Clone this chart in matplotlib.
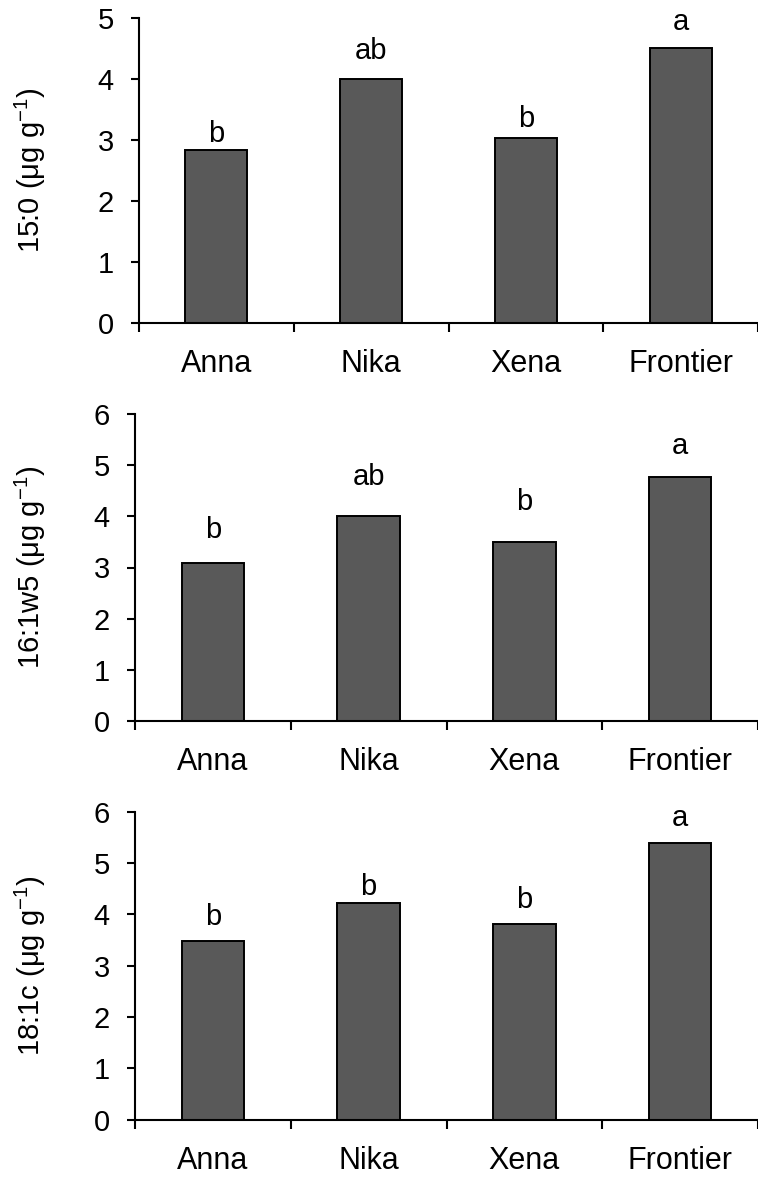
import matplotlib
matplotlib.use("Agg")
import matplotlib.pyplot as plt
import numpy as np

plt.rcParams['font.family'] = ['Liberation Sans', 'DejaVu Sans']
plt.rcParams['mathtext.fontset'] = 'custom'
plt.rcParams['mathtext.rm'] = 'Liberation Sans'
plt.rcParams['mathtext.it'] = 'Liberation Sans'

cultivars = ["Anna", "Nika", "Xena", "Frontier"]
fa_15_0 = [2.84, 4.01, 3.03, 4.51]
fa_16_1w5 = [3.09, 4.01, 3.49, 4.78]
fa_18_1c = [3.48, 4.22, 3.81, 5.40]
letters_15_0 = ["b", "ab", "b", "a"]
letters_16_1w5 = ["b", "ab", "b", "a"]
letters_18_1c = ["b", "b", "b", "a"]
ylabels = ["15:0 (μg g$^{-1}$)", "16:1w5 (μg g$^{-1}$)", "18:1c (μg g$^{-1}$)"]
ymaxes = [5, 6, 6]

W, H = 758, 1179
fig = plt.figure(figsize=(W / 100, H / 100), dpi=100)

# axes boxes in pixels: left, top(ymax), bottom(0)
boxes = [(139, 18.3, 322.7), (135, 414.3, 720.7), (135, 811.7, 1119.7)]
label_off_px = [[8, 20, 11, 18], [25, 31, 32, 23], [16, 8, 16, 17]]

panels = [(fa_15_0, letters_15_0), (fa_16_1w5, letters_16_1w5), (fa_18_1c, letters_18_1c)]

for i, ((vals, lets), (lpx, top, bot)) in enumerate(zip(panels, boxes)):
    ax = fig.add_axes([lpx / W, 1 - bot / H, (W - lpx) / W, (bot - top) / H])
    x = np.arange(len(cultivars))
    ax.bar(x, vals, width=0.4, color="#595959", edgecolor="black", linewidth=1.4, zorder=2)
    ax.set_xlim(-0.5, 3.5)
    ax.set_ylim(0, ymaxes[i])
    ax.set_yticks(range(ymaxes[i] + 1))
    ax.set_xticks(x)
    ax.set_xticklabels(cultivars)
    ax.set_xticks(np.arange(-0.5, 4.0, 1.0), minor=True)
    ax.tick_params(axis='x', which='major', length=0, pad=19, labelsize=22)
    ax.tick_params(axis='x', which='minor', length=6.5, width=1.5, direction='out')
    ax.tick_params(axis='y', length=6, width=1.5, direction='out', pad=12, labelsize=21)
    for s in ['top', 'right']:
        ax.spines[s].set_visible(False)
    for s in ['left', 'bottom']:
        ax.spines[s].set_linewidth(1.5)
    for xi, v, t, off in zip(x, vals, lets, label_off_px[i]):
        ax.annotate(t, (xi, v), xytext=(0, off * 0.72), textcoords='offset points',
                    ha='center', va='baseline', fontsize=21)
    fig.text(30 / W, 1 - (top + bot) / 2 / H, ylabels[i], rotation=90,
             ha='center', va='center', fontsize=21)

fig.savefig("out.png", dpi=100)
